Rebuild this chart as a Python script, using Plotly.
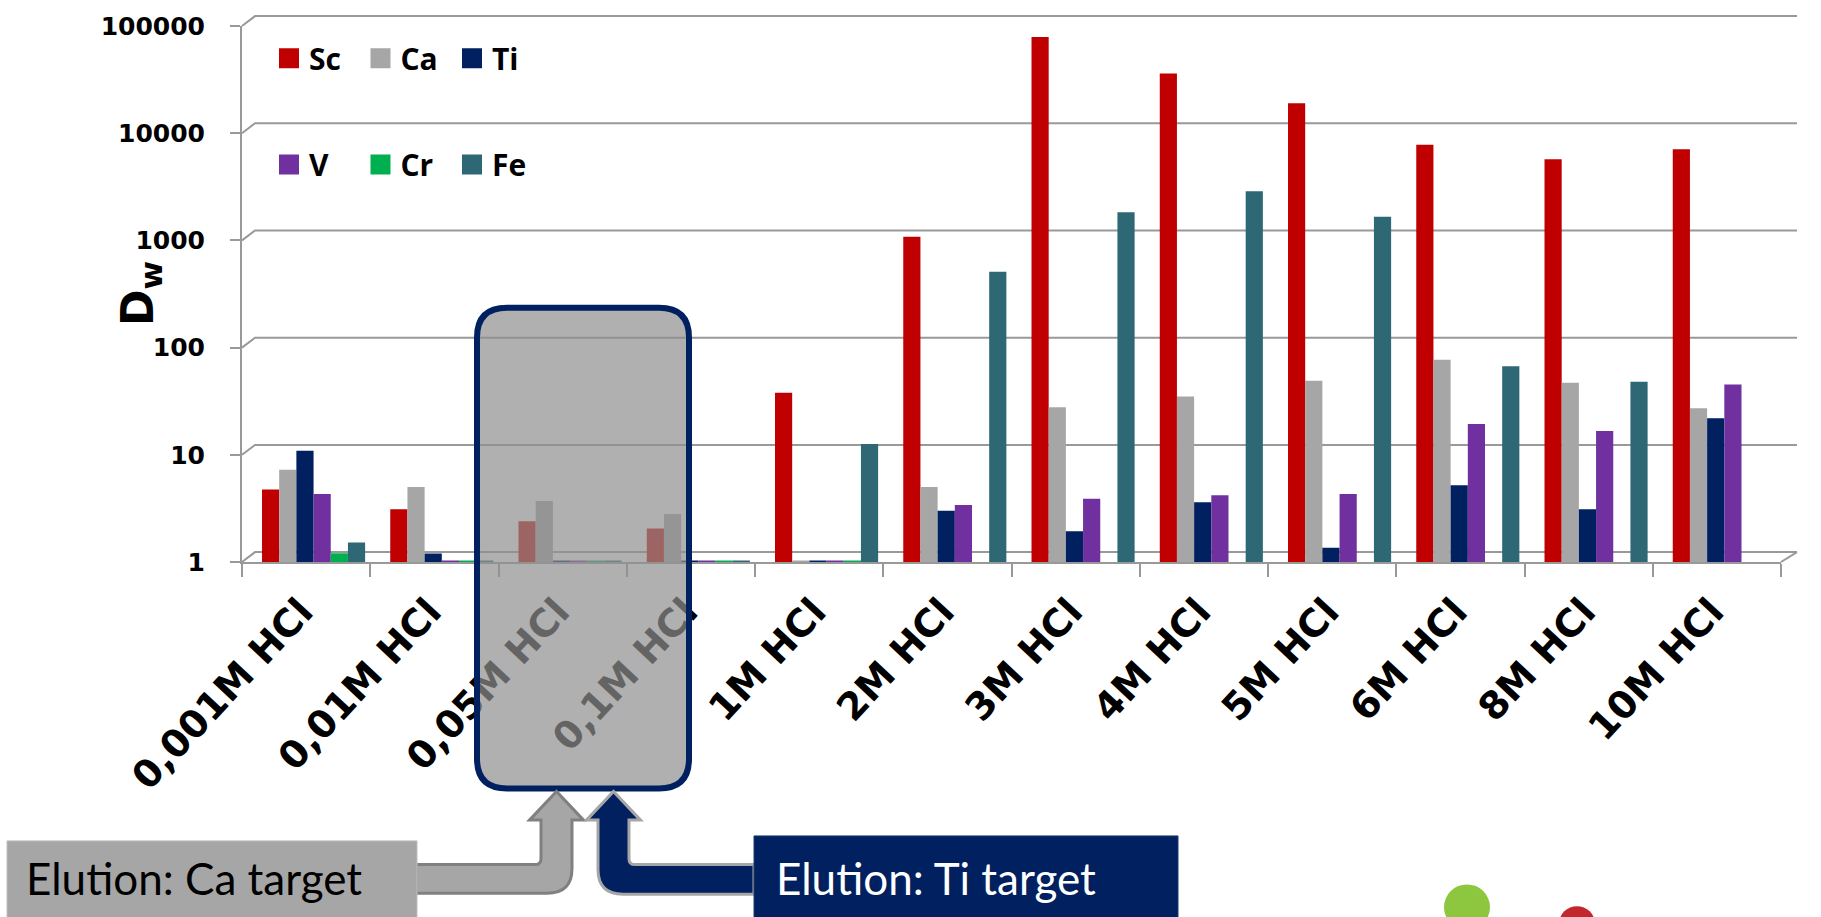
import math
import plotly.graph_objects as go

# ---------------- data ----------------
categories = ["0,001M HCl", "0,01M HCl", "0,05M HCl", "0,1M HCl", "1M HCl", "2M HCl",
              "3M HCl", "4M HCl", "5M HCl", "6M HCl", "8M HCl", "10M HCl"]
sc = [4.75, 3.1, 2.4, 2.05, 38, 1080, 79000, 36000, 19000, 7800, 5700, 7100]
ca = [7.25, 5.0, 3.7, 2.8, 1.03, 5.0, 27.7, 35, 49, 77, 47, 27.2]
ti = [10.9, 1.2, 1.03, 1.03, 1.03, 3.0, 1.94, 3.6, 1.36, 5.2, 3.1, 21.9]
v = [4.3, 1.03, 1.03, 1.03, 1.03, 3.4, 3.9, 4.2, 4.3, 19.4, 16.7, 45.2]
cr = [1.21, 1.03, 1.03, 1.03, 1.03, None, None, None, None, None, None, None]
fe = [1.52, 1.03, 1.03, 1.03, 12.6, 510, 1830, 2870, 1660, 67, 48, None]

series_names = ["Sc", "Ca", "Ti", "V", "Cr", "Fe"]
series_values = [sc, ca, ti, v, cr, fe]
series_colors = ["#C00000", "#A6A6A6", "#002060", "#7030A0", "#00B050", "#2E6875"]

y_tick_vals = [1, 10, 100, 1000, 10000, 100000]
y_tick_text = ["1", "10", "100", "1000", "10000", "100000"]

# ---------------- geometry (pixels) ----------------
W, H = 1821, 917
L, R, T, B = 242, 1781, 20, 562        # plot area
PW, PH = R - L, B - T
DEPTH_X, DEPTH_Y = 13, 10               # 3D back-wall offset


def px(x):
    return (x - L) / PW


def py(y):
    return (B - y) / PH


def path(cmds):
    out = []
    for c in cmds:
        if c[0] == "Z":
            out.append("Z")
            continue
        op, pts = c[0], c[1:]
        out.append(op + " ".join(f"{px(a):.5f},{py(b):.5f}" for a, b in pts))
    return " ".join(out)


fig = go.Figure()

bar_w = 0.134
bar_start = -0.344
for i, (name, vals, col) in enumerate(zip(series_names, series_values, series_colors)):
    fig.add_trace(go.Bar(
        x=categories, y=vals, name=name, marker=dict(color=col, line=dict(width=0)),
        width=bar_w, offset=bar_start + i * bar_w, showlegend=False,
    ))
    fig.add_trace(go.Scatter(
        x=[None], y=[None], mode="markers", name=name,
        marker=dict(symbol="square", size=16, color=col, line=dict(color=col, width=4)),
        legend="legend" if i < 3 else "legend2", showlegend=True,
    ))

shapes = []
grid_col = "#999999"
# back-wall gridlines with 3D connectors
for tv in y_tick_vals:
    yf = B - PH * math.log10(tv) / 5
    shapes.append(dict(type="path", xref="paper", yref="paper", layer="below",
                       path=path([("M", (L, yf)), ("L", (L + DEPTH_X, yf - DEPTH_Y)),
                                  ("L", (R + 16, yf - DEPTH_Y))]),
                       line=dict(color=grid_col, width=2)))
# floor right edge
shapes.append(dict(type="path", xref="paper", yref="paper", layer="below",
                   path=path([("M", (R, B)), ("L", (R + 16, B - DEPTH_Y))]),
                   line=dict(color=grid_col, width=2)))

# highlight rounded box
x0, x1, y0, y1, r = 477, 689, 305, 791, 30
shapes.append(dict(type="path", xref="paper", yref="paper", layer="above",
                   path=path([("M", (x0 + r, y0)), ("L", (x1 - r, y0)), ("Q", (x1, y0), (x1, y0 + r)),
                              ("L", (x1, y1 - r)), ("Q", (x1, y1), (x1 - r, y1)), ("L", (x0 + r, y1)),
                              ("Q", (x0, y1), (x0, y1 - r)), ("L", (x0, y0 + r)), ("Q", (x0, y0), (x0 + r, y0)),
                              ("Z",)]),
                   fillcolor="rgba(142,142,142,0.7)", line=dict(color="#002060", width=6)))

# gray arrow (Ca)
shapes.append(dict(type="path", xref="paper", yref="paper", layer="above",
                   path=path([("M", (416, 868)), ("L", (535, 868)), ("Q", (541, 868), (541, 862)),
                              ("L", (541, 823)), ("L", (529.5, 823)), ("L", (556.5, 794)),
                              ("L", (583.5, 823)), ("L", (572, 823)), ("L", (572, 872)),
                              ("Q", (572, 897), (547, 897)), ("L", (416, 897)), ("Z",)]),
                   fillcolor="#A6A6A6", line=dict(color="#808080", width=3)))
# navy arrow (Ti)
shapes.append(dict(type="path", xref="paper", yref="paper", layer="above",
                   path=path([("M", (754, 868)), ("L", (635, 868)), ("Q", (629, 868), (629, 862)),
                              ("L", (629, 823)), ("L", (640.5, 823)), ("L", (613.5, 794)),
                              ("L", (586.5, 823)), ("L", (598, 823)), ("L", (598, 873)),
                              ("Q", (598, 898), (623, 898)), ("L", (754, 898)), ("Z",)]),
                   fillcolor="#002060", line=dict(color="#A6A6A6", width=3)))
# label boxes
shapes.append(dict(type="rect", xref="paper", yref="paper", layer="above",
                   x0=px(7), x1=px(417), y0=py(844), y1=py(940),
                   fillcolor="#A6A6A6", line=dict(color="#BFBFBF", width=1)))
shapes.append(dict(type="rect", xref="paper", yref="paper", layer="above",
                   x0=px(754), x1=px(1178), y0=py(839), y1=py(940),
                   fillcolor="#002060", line=dict(color="#1F3A70", width=1)))
# decorative circles
for cx, cy, rr, col in [(1467, 911, 23, "#8DC63F"), (1577, 928, 18, "#C1272D")]:
    shapes.append(dict(type="circle", xref="paper", yref="paper", layer="above",
                       x0=px(cx - rr), x1=px(cx + rr), y0=py(cy + rr), y1=py(cy - rr),
                       fillcolor=col, line=dict(width=0)))

annotations = [
    dict(text="D<sub>w</sub>", xref="paper", yref="paper", x=px(140), y=py(291),
         textangle=-90, showarrow=False, xanchor="center", yanchor="middle",
         font=dict(family="DejaVu Sans", size=44, color="black", weight="bold")),
    dict(text="Elution: Ca target", xref="paper", yref="paper", x=px(24), y=py(882),
         xanchor="left", yanchor="middle", showarrow=False,
         font=dict(family="Lato", size=44, color="black")),
    dict(text="Elution: Ti target", xref="paper", yref="paper", x=px(774), y=py(882),
         xanchor="left", yanchor="middle", showarrow=False,
         font=dict(family="Lato", size=44, color="white")),
]

legend_common = dict(orientation="h", xanchor="left", yanchor="middle",
                     bgcolor="rgba(0,0,0,0)", borderwidth=0,
                     entrywidth=46.5, entrywidthmode="pixels",
                     font=dict(family="Open Sans", size=30, color="black", weight="bold"),
                     itemclick=False)

fig.update_layout(
    width=W, height=H,
    margin=dict(l=L, r=W - R, t=T, b=H - B, pad=0),
    paper_bgcolor="white", plot_bgcolor="white",
    barmode="group",
    showlegend=True,
    legend=dict(x=px(269), y=py(52.5), **legend_common),
    legend2=dict(x=px(269), y=py(160), **legend_common),
    xaxis=dict(type="category", range=[-0.5, 11.5], showline=True, linecolor=grid_col, linewidth=2,
               ticks="outside", tickson="boundaries", ticklen=13, tickcolor=grid_col, tickwidth=2,
               showgrid=False, tickangle=-47, ticklabelstandoff=10, ticklabelshift=-5,
               tickfont=dict(family="DejaVu Sans", size=38, color="black", weight="bold")),
    yaxis=dict(type="log", range=[0, 5], showline=True, linecolor=grid_col, linewidth=2,
               ticks="outside", ticklen=10, tickcolor=grid_col, tickwidth=2, showgrid=False,
               tickvals=y_tick_vals, ticktext=y_tick_text, ticklabelstandoff=20,
               tickfont=dict(family="DejaVu Sans", size=25, color="black", weight="bold")),
    shapes=shapes,
    annotations=annotations,
)

fig.write_html("out.html", config={"displayModeBar": False},
               post_script="document.body.style.margin='0px';")
